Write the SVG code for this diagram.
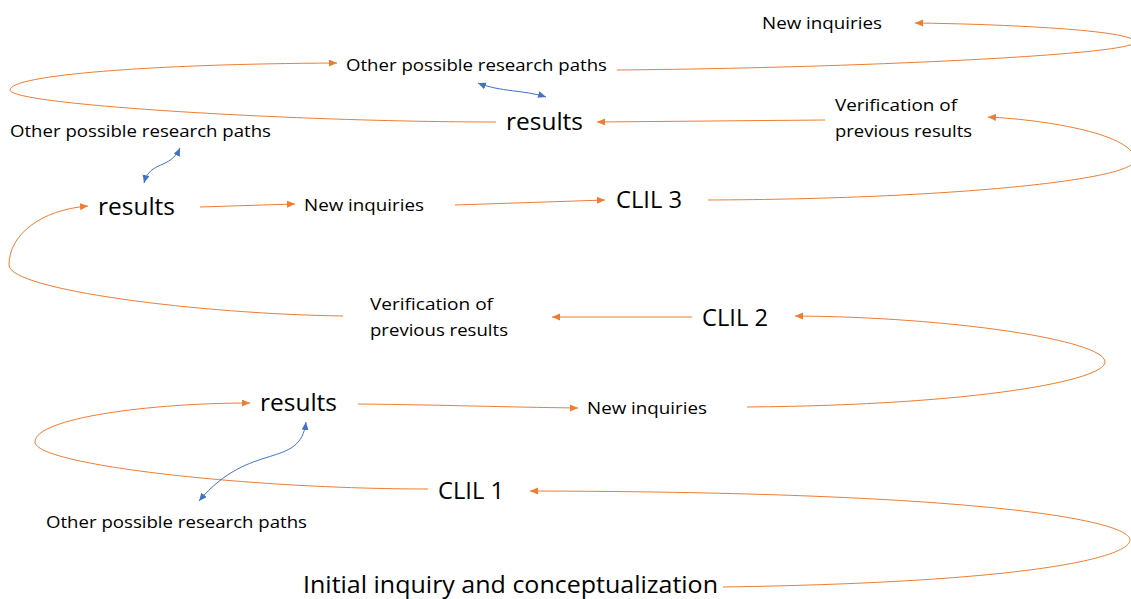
<svg xmlns="http://www.w3.org/2000/svg" width="1131" height="599" viewBox="0 0 1131 599">
<style>
text{font-family:"Open Sans","Liberation Sans",sans-serif;fill:#000}
.s{font-size:16.5px}
.l{font-size:23px}
.o{fill:none;stroke:#ED7D31;stroke-width:1;marker-end:url(#ao)}
.b{fill:none;stroke:#4472C4;stroke-width:1;marker-end:url(#ab);marker-start:url(#ab)}
</style>
<defs>
<marker id="ao" markerUnits="userSpaceOnUse" markerWidth="9" markerHeight="8" refX="8" refY="3.5" orient="auto"><path d="M0,0 L8,3.5 L0,7 z" fill="#ED7D31"/></marker>
<marker id="ab" markerUnits="userSpaceOnUse" markerWidth="9" markerHeight="8" refX="8" refY="3.5" orient="auto-start-reverse"><path d="M0,0 L8,3.5 L0,7 z" fill="#4472C4"/></marker>
</defs>
<rect width="1131" height="599" fill="#fff"/>
<g id="connectors">
<path class="o" d="M723,587 C1050,582 1130,555 1130,540 C1130,522 1000,492 530,491"/>
<path class="o" d="M428,489 C250,489 35,465 35,442 C35,418 150,403 250,403"/>
<path class="o" d="M358,404 C450,405 500,407 578,408"/>
<path class="o" d="M747,407 C980,405 1105,380 1105,362 C1105,340 950,317 795,316"/>
<path class="o" d="M692,317 L552,317"/>
<path class="o" d="M343,316 C200,314 9,290 9,265 C9,235 40,210 88,206"/>
<path class="o" d="M200,207 L295,204"/>
<path class="o" d="M455,205 L605,200"/>
<path class="o" d="M708,200 C950,199 1135,180 1135,160 C1135,135 1050,120 988,117"/>
<path class="o" d="M825,120 L597,122"/>
<path class="o" d="M496,122 C300,122 10,105 10,90 C10,75 150,64 337,63"/>
<path class="o" d="M617,70 C850,68 1135,55 1135,42 C1135,30 1000,24 915,23"/>
<path class="b" d="M478,83 C500,92 525,90 546,97"/>
<path class="b" d="M180,148 C170,170 150,160 144,183"/>
<path class="b" d="M306,422 C300,470 250,440 199,501"/>
</g>
<g id="n1"><text class="s" x="762" y="29" textLength="120" lengthAdjust="spacingAndGlyphs">New inquiries</text></g>
<g id="n2"><text class="s" x="346" y="71" textLength="261" lengthAdjust="spacingAndGlyphs">Other possible research paths</text></g>
<g id="n3"><text class="l" x="506" y="130" textLength="77" lengthAdjust="spacingAndGlyphs">results</text></g>
<g id="n4"><text class="s" x="835" y="111" textLength="122" lengthAdjust="spacingAndGlyphs">Verification of</text><text class="s" x="835" y="137" textLength="137" lengthAdjust="spacingAndGlyphs">previous results</text></g>
<g id="n5"><text class="s" x="10" y="137" textLength="261" lengthAdjust="spacingAndGlyphs">Other possible research paths</text></g>
<g id="n6"><text class="l" x="98" y="215" textLength="77" lengthAdjust="spacingAndGlyphs">results</text></g>
<g id="n7"><text class="s" x="304" y="211" textLength="120" lengthAdjust="spacingAndGlyphs">New inquiries</text></g>
<g id="n8"><text class="l" x="616" y="208" textLength="66" lengthAdjust="spacingAndGlyphs">CLIL 3</text></g>
<g id="n9"><text class="s" x="370" y="310" textLength="123" lengthAdjust="spacingAndGlyphs">Verification of</text><text class="s" x="370" y="336" textLength="138" lengthAdjust="spacingAndGlyphs">previous results</text></g>
<g id="n10"><text class="l" x="702" y="326" textLength="66" lengthAdjust="spacingAndGlyphs">CLIL 2</text></g>
<g id="n11"><text class="l" x="260" y="411" textLength="77" lengthAdjust="spacingAndGlyphs">results</text></g>
<g id="n12"><text class="s" x="587" y="414" textLength="120" lengthAdjust="spacingAndGlyphs">New inquiries</text></g>
<g id="n13"><text class="l" x="438" y="499" textLength="66" lengthAdjust="spacingAndGlyphs">CLIL 1</text></g>
<g id="n14"><text class="s" x="46" y="528" textLength="261" lengthAdjust="spacingAndGlyphs">Other possible research paths</text></g>
<g id="n15"><text class="l" x="303" y="593" textLength="415" lengthAdjust="spacingAndGlyphs">Initial inquiry and conceptualization</text></g>
</svg>
